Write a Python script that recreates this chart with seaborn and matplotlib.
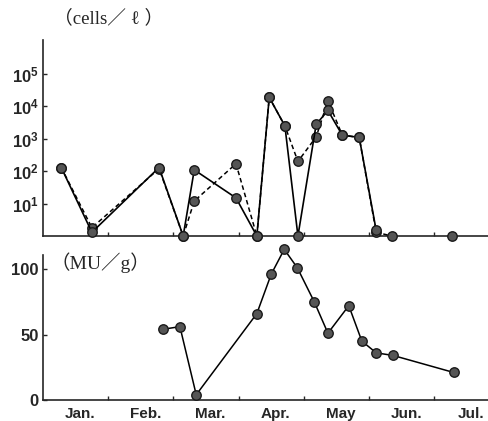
import matplotlib
matplotlib.use("Agg")
import matplotlib.pyplot as plt
import seaborn as sns
import pandas as pd
import numpy as np

# ---- data (x = months since Jan 1) ----
months = ["Jan.", "Feb.", "Mar.", "Apr.", "May", "Jun.", "Jul."]

cells_solid_x = [0.28, 0.75, 1.78, 2.15, 2.32, 2.96, 3.28, 3.47, 3.71, 3.91, 4.19, 4.37, 4.59, 4.85, 5.11]
cells_solid_y = [130, 1.3, 130, 1.0, 110, 15, 1.0, 19000, 2500, 1.0, 2800, 7500, 1300, 1100, 1.5]

cells_dash_x = [0.28, 0.75, 1.78, 2.15, 2.32, 2.96, 3.28, 3.47, 3.71, 3.91, 4.19, 4.37, 4.59, 4.85, 5.11, 5.35]
cells_dash_y = [130, 1.8, 120, 1.0, 12, 170, 1.0, 19000, 2500, 200, 1150, 15000, 1300, 1100, 1.3, 1.0]

cells_single_x = [6.27]
cells_single_y = [1.0]

tox_x = [1.84, 2.10, 2.35, 3.28, 3.50, 3.70, 3.90, 4.16, 4.37, 4.69, 4.89, 5.11, 5.37, 6.30]
tox_y = [54, 56, 4, 66, 96, 115, 101, 75, 51, 72, 45, 36, 34, 21]

yticks_top = [10, 100, 1000, 10000, 100000]
yticklabels_top = ["10$^{1}$", "10$^{2}$", "10$^{3}$", "10$^{4}$", "10$^{5}$"]
yticks_bot = [0, 50, 100]

# ---- style ----
sns.set_style("ticks")
plt.rcParams["font.family"] = ["Liberation Sans", "DejaVu Sans"]
plt.rcParams["mathtext.default"] = "regular"

W, H = 489, 421
fig = plt.figure(figsize=(W / 100, H / 100), dpi=100)
left = 43 / W
ax1 = fig.add_axes([left, 1 - 236 / H, 1 - left, (236 - 40) / H])
ax2 = fig.add_axes([left, 1 - 400 / H, 1 - left, (400 - 255) / H])

mk = dict(marker="o", markersize=6.8, markerfacecolor="#555555",
          markeredgecolor="#1a1a1a", markeredgewidth=1.0)

df_s = pd.DataFrame({"x": cells_solid_x, "y": cells_solid_y})
df_d = pd.DataFrame({"x": cells_dash_x, "y": cells_dash_y})
df_1 = pd.DataFrame({"x": cells_single_x, "y": cells_single_y})
df_t = pd.DataFrame({"x": tox_x, "y": tox_y})

sns.lineplot(data=df_d, x="x", y="y", ax=ax1, color="black", linewidth=1.1,
             linestyle=(0, (3, 2)), clip_on=False, zorder=3, **mk)
sns.lineplot(data=df_s, x="x", y="y", ax=ax1, color="black", linewidth=1.2,
             clip_on=False, zorder=4, **mk)
sns.lineplot(data=df_1, x="x", y="y", ax=ax1, color="black", linewidth=0,
             clip_on=False, zorder=4, **mk)
sns.lineplot(data=df_t, x="x", y="y", ax=ax2, color="black", linewidth=1.1,
             clip_on=False, zorder=4, **mk)

xmax = (W - 43) / 65.2
for ax in (ax1, ax2):
    ax.set_xlim(0, xmax)
    ax.set_xlabel("")
    ax.set_ylabel("")
    for s in ("top", "right"):
        ax.spines[s].set_visible(False)
    ax.spines["left"].set_linewidth(1.2)
    ax.spines["bottom"].set_linewidth(1.2)
    ax.tick_params(direction="in", length=3, width=1, labelsize=12, pad=3)
    ax.set_facecolor("none")

ax1.set_yscale("log")
ax1.set_ylim(1, 10 ** 6.05)
ax1.set_yticks(yticks_top)
ax1.set_yticklabels(yticklabels_top)
ax1.yaxis.set_minor_locator(matplotlib.ticker.NullLocator())
ax1.set_xticks(range(1, 7))
ax1.set_xticklabels([])

ax2.set_ylim(0, 110.7)
ax2.set_yticks(yticks_bot)
ax2.set_xticks(range(1, 7))
ax2.set_xticklabels([])
ax2.set_xticks([i + 0.57 for i in range(len(months))], minor=True)
ax2.set_xticklabels(months, minor=True)
ax2.tick_params(axis="x", which="minor", length=0, labelsize=11, pad=5)

for lab in ax1.get_yticklabels() + ax2.get_yticklabels() + ax2.get_xticklabels(minor=True):
    lab.set_fontweight("bold")

fig.text(54 / W, 1 - 18 / H, "（cells／ ℓ ）", ha="left", va="center",
         fontsize=13.5, family=["Liberation Serif", "Noto Sans CJK JP", "DejaVu Sans"])
fig.text(51 / W, 1 - 263 / H, "（MU／g）", ha="left", va="center",
         fontsize=14, family=["Liberation Serif", "Noto Sans CJK JP", "DejaVu Sans"])

fig.savefig("out.png", dpi=100)
